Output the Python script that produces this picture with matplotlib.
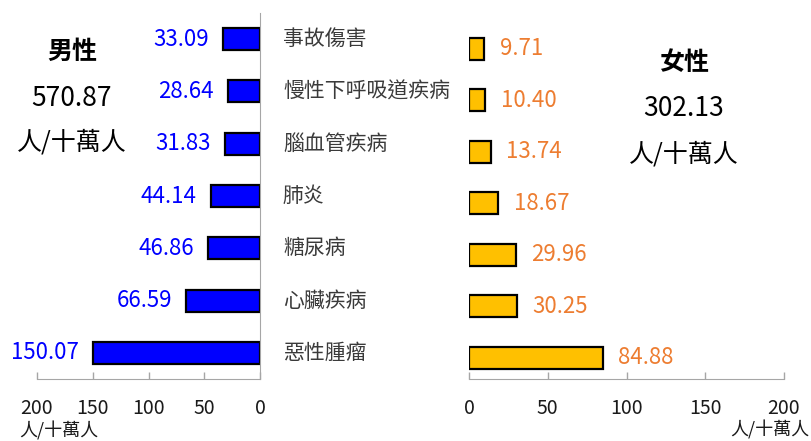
import matplotlib
matplotlib.use('Agg')
import matplotlib.pyplot as plt
from matplotlib.transforms import blended_transform_factory

plt.rcParams['font.family'] = ['Noto Sans CJK TC', 'DejaVu Sans']

# data, top to bottom
causes = ['事故傷害', '慢性下呼吸道疾病', '腦血管疾病', '肺炎', '糖尿病', '心臟疾病', '惡性腫瘤']
male = [33.09, 28.64, 31.83, 44.14, 46.86, 66.59, 150.07]
female = [9.71, 10.40, 13.74, 18.67, 29.96, 30.25, 84.88]
ticks = [0, 50, 100, 150, 200]
male_total = '570.87'
female_total = '302.13'
unit = '人/十萬人'

W, H = 811, 441
fig = plt.figure(figsize=(W / 100, H / 100), dpi=100)

grey = '#a6a6a6'
txt = '#1a1a1a'
pos = list(range(len(causes)))

# male side (bars grow to the left)
ax_m = fig.add_axes([37 / W, 1 - 379 / H, 223 / W, 366 / H])
ax_m.barh(pos, male, height=0.42, color='#0000ff', edgecolor='black', linewidth=1.6)
ax_m.set_xlim(200, 0)
ax_m.set_ylim(6.5, -0.5)
for i, v in enumerate(male):
    ax_m.annotate(f'{v:.2f}', (v, i), xytext=(-10, 0), textcoords='offset points',
                  ha='right', va='center', color='#0000ff', fontsize=16)

# female side
ax_f = fig.add_axes([469 / W, 1 - 379 / H, 315 / W, 356 / H])
ax_f.barh(pos, female, height=0.43, color='#ffc000', edgecolor='black', linewidth=1.6)
ax_f.set_xlim(0, 200)
ax_f.set_ylim(6.41, -0.5)
for i, v in enumerate(female):
    ax_f.annotate(f'{v:.2f}', (v, i), xytext=(11, 0), textcoords='offset points',
                  ha='left', va='center', color='#ed7d31', fontsize=16)

for ax in (ax_m, ax_f):
    ax.set_xticks(ticks)
    ax.set_xticklabels([str(t) for t in ticks])
    ax.set_yticks([])
    ax.tick_params(axis='x', direction='in', length=5, color=grey, width=1,
                   pad=14, labelsize=14, labelcolor=txt)
    for s in ('top', 'left', 'right'):
        ax.spines[s].set_visible(False)
    ax.spines['bottom'].set_color(grey)
    ax.patch.set_alpha(0)
ax_m.spines['right'].set_visible(True)
ax_m.spines['right'].set_color(grey)

# category labels in the middle
tr = blended_transform_factory(fig.transFigure, ax_m.transData)
for i, c in enumerate(causes):
    fig.text(283 / W, i, c, transform=tr, ha='left', va='center', fontsize=15, color='#3a3a3a')

# totals
fig.text(72 / W, 1 - 52 / H, '男性', ha='center', va='center', fontsize=18, fontweight='bold', color='black')
fig.text(72 / W, 1 - 99 / H, male_total, ha='center', va='center', fontsize=19, color='black')
fig.text(72 / W, 1 - 143 / H, unit, ha='center', va='center', fontsize=18, color='black')
fig.text(684 / W, 1 - 63 / H, '女性', ha='center', va='center', fontsize=18, fontweight='bold', color='black')
fig.text(684 / W, 1 - 109 / H, female_total, ha='center', va='center', fontsize=19, color='black')
fig.text(684 / W, 1 - 155 / H, unit, ha='center', va='center', fontsize=18, color='black')

# unit labels under the axes
fig.text(19 / W, 1 - 431 / H, unit, ha='left', va='center', fontsize=13, color=txt)
fig.text(809 / W, 1 - 430 / H, unit, ha='right', va='center', fontsize=13, color=txt)

fig.savefig('out.png', dpi=100)
